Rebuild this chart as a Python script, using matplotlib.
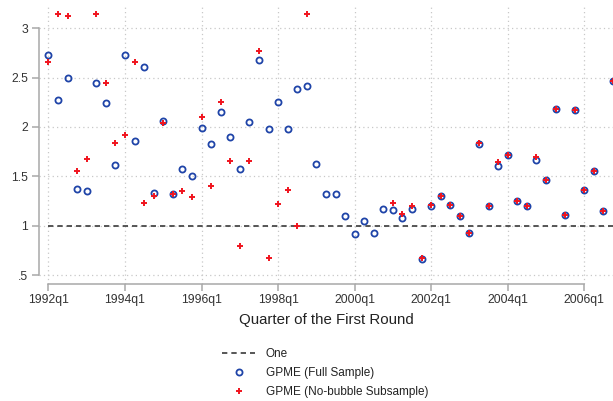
# Importing libraries
import numpy as np
import matplotlib
matplotlib.use("Agg")
import matplotlib.pyplot as plt

# Quarters from 1992q1 to 2006q4 (index 0..59)
quarters = np.arange(60)
tickPositions = [0, 8, 16, 24, 32, 40, 48, 56]
tickLabels = ["1992q1", "1994q1", "1996q1", "1998q1", "2000q1", "2002q1", "2004q1", "2006q1"]

# GPME estimates, full sample
fullSample = [2.726, 2.277, 2.50, 1.375, 1.355, 2.449, 2.247, 1.618, 2.726, 1.855,
              2.605, 1.328, 2.057, 1.318, 1.578, 1.50, 1.986, 1.831, 2.149, 1.902,
              1.578, 2.054, 2.682, 1.983, 2.25, 1.983, 2.385, 2.419, 1.628, 1.324,
              1.324, 1.098, 0.916, 1.044, 0.929, 1.169, 1.159, 1.074, 1.166, 0.662,
              1.20, 1.301, 1.209, 1.098, 0.929, 1.824, 1.196, 1.608, 1.713, 1.247,
              1.196, 1.666, 1.466, 2.186, 1.105, 2.169, 1.358, 1.557, 1.149, 2.466]

# GPME estimates, no-bubble subsample (missing during the bubble)
noBubble = [2.652, 3.142, 3.125, 1.554, 1.672, 3.142, 2.443, 1.834, 1.922, 2.662,
            1.233, 1.304, 2.044, 1.318, 1.351, 1.294, 2.105, 1.402, 2.253, 1.652,
            0.794, 1.655, 2.764, 0.672, 1.22, 1.358, 1.0, 3.142, np.nan, np.nan,
            np.nan, np.nan, np.nan, np.nan, np.nan, np.nan, 1.23, 1.118, 1.20, 0.672,
            1.209, 1.301, 1.209, 1.098, 0.929, 1.84, 1.196, 1.642, 1.713, 1.247,
            1.196, 1.699, 1.466, 2.186, 1.105, 2.169, 1.358, 1.557, 1.149, 2.466]

# Reference line at one
oneLine = np.ones(len(quarters))

plt.rcParams["font.family"] = ["Liberation Sans", "DejaVu Sans"]

fig = plt.figure(figsize=(6.13, 4.01), dpi=100)
ax = fig.add_axes([39 / 613, 117 / 401, 1 - 39 / 613, 279 / 401])

# Plotting the series
ax.plot(quarters, oneLine, linestyle=(0, (3.2, 2.4)), color="#3a3a3a", linewidth=1.2, label="One", zorder=2)
ax.plot(quarters, fullSample, linestyle="none", marker="o", markersize=4.4, markerfacecolor="none",
        markeredgecolor="#1f44a8", markeredgewidth=1.3, label="GPME (Full Sample)", zorder=3)
ax.plot(quarters, noBubble, linestyle="none", marker="+", markersize=4.8,
        markeredgecolor="#f0141e", markeredgewidth=1.4, label="GPME (No-bubble Subsample)", zorder=4)

# Axes, ticks and grid
ax.set_xlim(-0.99, 59.0)
ax.set_ylim(0.41, 3.234)
ax.set_xticks(tickPositions)
ax.set_xticklabels(tickLabels)
ax.set_yticks([0.5, 1, 1.5, 2, 2.5, 3])
ax.set_yticklabels([".5", "1", "1.5", "2", "2.5", "3"])
ax.grid(True, linestyle=(0, (1, 2.5)), color="#c8c8c8", linewidth=0.9)
ax.set_axisbelow(True)

for side in ["top", "right"]:
    ax.spines[side].set_visible(False)
ax.spines["bottom"].set_bounds(0, 56)
ax.spines["left"].set_bounds(0.5, 3)
for side in ["bottom", "left"]:
    ax.spines[side].set_color("#a8a8a8")
    ax.spines[side].set_linewidth(1.1)
ax.tick_params(axis="both", colors="#a8a8a8", length=5, width=1.1, labelcolor="#333333", labelsize=8.8)
ax.tick_params(axis="y", pad=3)
ax.tick_params(axis="x", pad=2)

ax.set_xlabel("Quarter of the First Round", fontsize=10.8, color="#222222", labelpad=5)

# Legend below the plot
fig.legend(loc="upper left", bbox_to_anchor=(222 / 613, 1 - 348 / 401), frameon=False,
           fontsize=8.5, handlelength=2.8, handletextpad=0.9, labelspacing=0.6,
           borderpad=0, borderaxespad=0, labelcolor="#222222")

plt.savefig("out.png", dpi=100)
